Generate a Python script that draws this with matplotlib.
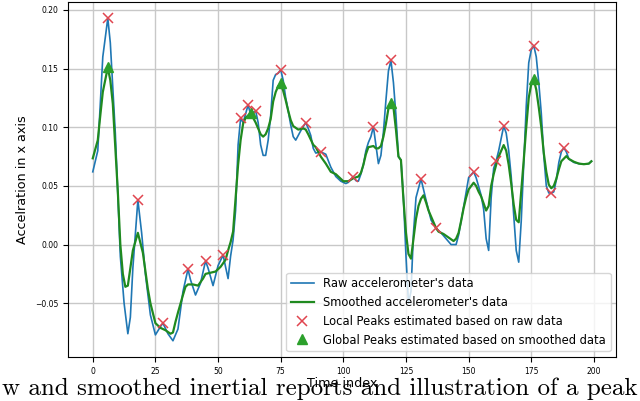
import numpy as np
import matplotlib
matplotlib.use("Agg")
import matplotlib.pyplot as plt

# raw accelerometer samples (time index, value)
raw_t = [0, 2, 4, 6, 7, 9, 11, 12.5, 14, 15, 16, 18, 19.5, 21, 23, 25, 27, 28, 30, 32,
         34, 36, 38, 39, 41, 43, 45, 46, 48, 50, 52, 54, 55, 56, 57, 58, 59, 60, 62, 63,
         65, 66, 67, 68, 69, 70, 71, 72, 73, 74, 75, 76, 77, 78, 79, 80, 81, 82, 83, 85,
         86, 87, 88, 89, 91, 92, 93, 95, 97, 99, 101, 102, 104, 105, 106, 107, 108, 109, 110, 111,
         112, 113, 114, 115, 116, 117, 118, 119, 120, 121, 122, 123, 124, 125, 126, 127, 128, 129, 131, 133,
         135, 137, 139, 141, 143, 145, 146, 148, 150, 152, 153, 155, 156, 157, 158, 159, 160, 161, 162, 164,
         165, 166, 167, 168, 169, 170, 171, 172, 173, 174, 175, 176, 177, 178, 179, 180, 181, 182, 183, 184,
         185, 186, 187, 188, 189, 190, 192, 194, 196, 198, 199]
raw_acc = [0.062, 0.080, 0.160, 0.193, 0.172, 0.095, -0.010, -0.050, -0.076, -0.062, -0.020, 0.038, 0.010, -0.025, -0.060, -0.077, -0.070, -0.067, -0.076, -0.082,
           -0.072, -0.040, -0.021, -0.030, -0.043, -0.033, -0.014, -0.020, -0.035, -0.018, -0.009, -0.029, -0.010, 0.004, 0.029, 0.085, 0.1075, 0.104, 0.119, 0.111,
           0.114, 0.104, 0.085, 0.076, 0.076, 0.089, 0.110, 0.140, 0.145, 0.146, 0.149, 0.140, 0.125, 0.114, 0.102, 0.092, 0.089, 0.093, 0.097, 0.104,
           0.099, 0.093, 0.082, 0.078, 0.079, 0.078, 0.077, 0.066, 0.058, 0.054, 0.052, 0.053, 0.058, 0.0545, 0.054, 0.060, 0.068, 0.080, 0.087, 0.092,
           0.1005, 0.085, 0.069, 0.076, 0.096, 0.123, 0.148, 0.157, 0.138, 0.110, 0.075, 0.072, 0.040, -0.010, -0.050, -0.040, 0.010, 0.040, 0.056, 0.038,
           0.021, 0.014, 0.010, 0.005, 0.000, 0.000, 0.008, 0.032, 0.057, 0.062, 0.057, 0.042, 0.030, 0.005, -0.005, 0.040, 0.065, 0.0715, 0.080, 0.101,
           0.095, 0.080, 0.058, 0.025, -0.005, -0.015, 0.020, 0.070, 0.118, 0.155, 0.166, 0.1696, 0.160, 0.138, 0.112, 0.076, 0.050, 0.044, 0.0437, 0.045,
           0.055, 0.070, 0.079, 0.0825, 0.079, 0.073, 0.070, 0.069, 0.0685, 0.069, 0.071]

# smoothed samples
smooth_t = [0, 2, 3, 4, 6, 7, 8, 10, 11, 12, 13, 14, 15, 16, 18, 20, 22, 23, 25, 27,
            29, 31, 32, 33, 34, 36, 37, 38, 40, 42, 44, 45, 47, 49, 51, 53, 54, 55, 56, 57,
            58, 59, 60, 61, 62, 63, 64, 65, 66, 67, 68, 69, 70, 71, 72, 73, 74, 75, 76, 77,
            78, 79, 80, 82, 84, 85, 86, 88, 89, 91, 93, 95, 97, 99, 100, 102, 104, 106, 107, 108,
            109, 110, 112, 113, 114, 115, 116, 117, 118, 119, 120, 121, 122, 123, 124, 125, 126, 127, 128, 129,
            130, 131, 132, 133, 134, 135, 137, 138, 140, 142, 144, 145, 146, 147, 148, 149, 150, 152, 153, 154,
            155, 157, 158, 159, 160, 161, 162, 164, 165, 166, 167, 168, 169, 170, 171, 172, 173, 174, 175, 176,
            177, 178, 179, 180, 181, 182, 183, 184, 185, 186, 187, 189, 190, 192, 194, 196, 198, 199]
smooth_acc = [0.0735, 0.089, 0.110, 0.130, 0.151, 0.140, 0.120, 0.045, 0.000, -0.025, -0.036, -0.035, -0.020, -0.005, 0.010, -0.007, -0.038, -0.050, -0.067, -0.071,
              -0.073, -0.076, -0.075, -0.066, -0.058, -0.043, -0.036, -0.034, -0.034, -0.035, -0.029, -0.025, -0.024, -0.023, -0.019, -0.013, -0.005, 0.002, 0.011, 0.040,
              0.068, 0.089, 0.103, 0.108, 0.110, 0.112, 0.108, 0.104, 0.099, 0.094, 0.092, 0.094, 0.099, 0.107, 0.122, 0.130, 0.135, 0.1375, 0.131, 0.123,
              0.114, 0.106, 0.101, 0.098, 0.099, 0.098, 0.094, 0.085, 0.083, 0.075, 0.069, 0.062, 0.060, 0.056, 0.054, 0.054, 0.0565, 0.058, 0.061, 0.068,
              0.077, 0.083, 0.084, 0.082, 0.082, 0.084, 0.092, 0.103, 0.116, 0.1204, 0.117, 0.098, 0.075, 0.072, 0.038, 0.010, -0.008, -0.012, 0.005, 0.022,
              0.033, 0.039, 0.042, 0.036, 0.029, 0.024, 0.014, 0.011, 0.009, 0.006, 0.003, 0.005, 0.010, 0.020, 0.031, 0.040, 0.047, 0.0527, 0.050, 0.045,
              0.041, 0.029, 0.033, 0.050, 0.060, 0.068, 0.075, 0.0848, 0.080, 0.068, 0.052, 0.034, 0.021, 0.019, 0.045, 0.072, 0.100, 0.125, 0.137, 0.1409,
              0.132, 0.117, 0.100, 0.078, 0.062, 0.051, 0.048, 0.050, 0.056, 0.064, 0.071, 0.0754, 0.073, 0.0706, 0.069, 0.0685, 0.069, 0.071]

# local peaks on raw data
local_t = [6, 18, 28, 38, 45, 52, 59, 62, 65, 75, 85, 91, 104, 112, 119, 131, 137, 152, 161, 164, 176, 183, 188]
local_acc = [0.193, 0.038, -0.067, -0.021, -0.014, -0.009, 0.1075, 0.119, 0.114, 0.149, 0.104, 0.079, 0.058,
             0.1005, 0.157, 0.056, 0.014, 0.062, 0.0715, 0.101, 0.1696, 0.0437, 0.0825]

# global peaks on smoothed data
global_t = [6, 63, 75, 119, 176]
global_acc = [0.151, 0.112, 0.1375, 0.1204, 0.1409]

fig = plt.figure(figsize=(6.4, 4.01), dpi=100)
ax = fig.add_axes([0.106, 0.110, 0.857, 0.885])

ax.plot(raw_t, raw_acc, color="tab:blue", lw=1.2, label="Raw accelerometer's data")
ax.plot(smooth_t, smooth_acc, color="#1f8a1f", lw=1.6, label="Smoothed accelerometer's data")
ax.plot(local_t, local_acc, "x", color="#e0454f", ms=7, mew=1.1,
        label="Local Peaks estimated based on raw data")
ax.plot(global_t, global_acc, "^", color="tab:green", ms=7,
        label="Global Peaks estimated based on smoothed data")

ax.set_xticks([0, 25, 50, 75, 100, 125, 150, 175, 200])
ax.set_yticks([-0.05, 0.00, 0.05, 0.10, 0.15, 0.20])
ax.tick_params(labelsize=5.5)
ax.grid(True, color="#c8c8c8", lw=1.0)
ax.set_ylabel("Accelration in x axis", fontsize=9.2)
ax.set_xlabel("Time index", fontsize=9.2, labelpad=1)
ax.legend(loc="lower right", fontsize=8.3)

# caption text from the paper, partly cut off at the edges
fig.text(0.5, 0.016, "w and smoothed inertial reports and illustration of a peak",
         family="cmr10", fontsize=18, ha="center", va="baseline")

fig.savefig("out.png", dpi=100)
